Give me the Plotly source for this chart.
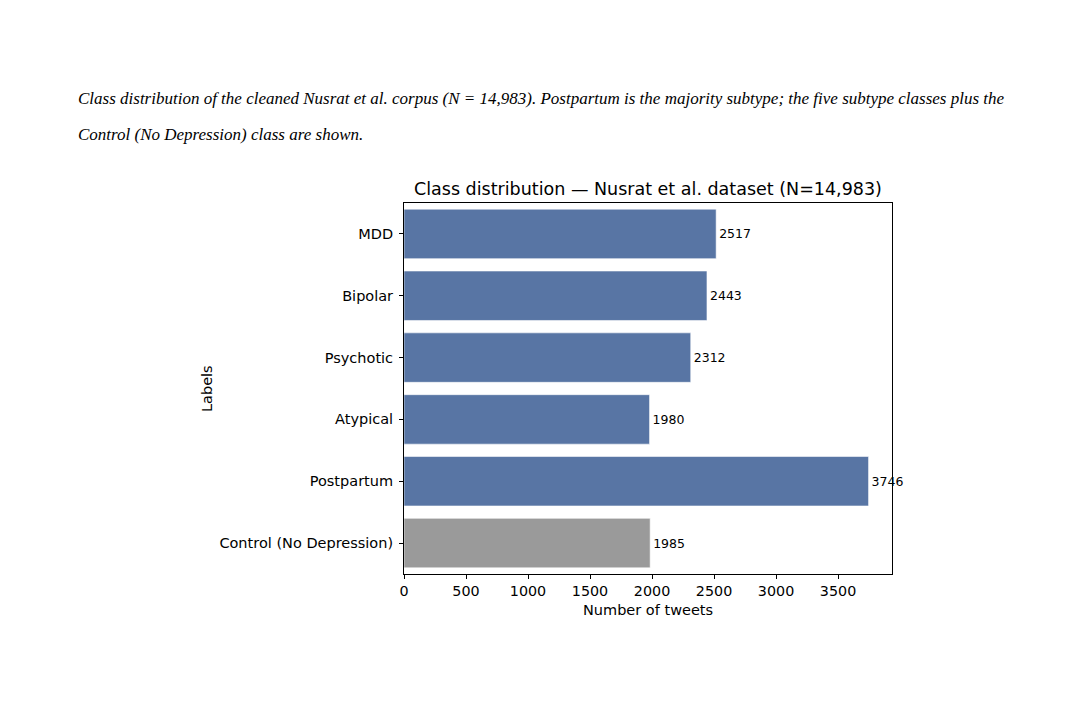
import plotly.graph_objects as go

categories = ["MDD", "Bipolar", "Psychotic", "Atypical", "Postpartum", "Control (No Depression)"]
counts = [2517, 2443, 2312, 1980, 3746, 1985]
bar_colors = ["#5875a4", "#5875a4", "#5875a4", "#5875a4", "#5875a4", "#9a9a9a"]
x_ticks = [0, 500, 1000, 1500, 2000, 2500, 3000, 3500]

title_text = "Class distribution — Nusrat et al. dataset (N=14,983)"
caption_1 = ("Class distribution of the cleaned Nusrat et al. corpus (N = 14,983). Postpartum is the majority "
             "subtype; the five subtype classes plus the")
caption_2 = "Control (No Depression) class are shown."

OFF = 8  # page body margin
W, H = 1083, 728
L, R, T, B = 404 - OFF, 892 - OFF, 203 - OFF, 574 - OFF
pw, ph = R - L, B - T

def px_x(x):
    return (x - OFF - L) / pw

def px_y(y):
    return (B - (y - OFF)) / ph

fig = go.Figure()
fig.add_trace(go.Bar(
    x=counts, y=categories, orientation="h",
    marker=dict(color=bar_colors, line=dict(color="rgba(255,255,255,0.55)", width=1)),
    width=0.8,
    text=[str(c) for c in counts], textposition="outside",
    outsidetextfont=dict(family="DejaVu Sans", size=12.5, color="black"),
    cliponaxis=False, showlegend=False,
))

axis_common = dict(showline=True, linecolor="black", linewidth=1, mirror=True,
                   ticks="outside", ticklen=4, tickcolor="black", tickwidth=1,
                   showgrid=False, zeroline=False)

fig.update_layout(
    width=W, height=H,
    margin=dict(l=L, r=W - R, t=T, b=H - B, pad=0),
    paper_bgcolor="white", plot_bgcolor="white",
    font=dict(family="DejaVu Sans", color="black"),
    xaxis=dict(range=[0, 3935], tickvals=x_ticks, tickfont=dict(size=14.3), **axis_common),
    yaxis=dict(autorange="reversed", tickfont=dict(size=14.5), ticklabelstandoff=3, **axis_common),
    bargap=0.2,
)

fig.add_annotation(text=title_text, x=px_x((404 + 892) / 2), y=px_y(189), xref="paper", yref="paper",
                   showarrow=False, font=dict(size=17.5, family="DejaVu Sans"), xanchor="center", yanchor="middle")
fig.add_annotation(text="Number of tweets", x=px_x(648), y=px_y(610), xref="paper", yref="paper",
                   showarrow=False, font=dict(size=14.5, family="DejaVu Sans"), xanchor="center", yanchor="middle")
fig.add_annotation(text="Labels", x=px_x(207), y=px_y(389), xref="paper", yref="paper", textangle=-90,
                   showarrow=False, font=dict(size=14.5, family="DejaVu Sans"), xanchor="center", yanchor="middle")
fig.add_annotation(text="<i>" + caption_1 + "</i>", x=px_x(76), y=px_y(98), xref="paper", yref="paper",
                   showarrow=False, font=dict(size=17, family="Liberation Serif"), xanchor="left", yanchor="middle")
fig.add_annotation(text="<i>" + caption_2 + "</i>", x=px_x(76), y=px_y(135), xref="paper", yref="paper",
                   showarrow=False, font=dict(size=17, family="Liberation Serif"), xanchor="left", yanchor="middle")

fig.write_html("out.html")
